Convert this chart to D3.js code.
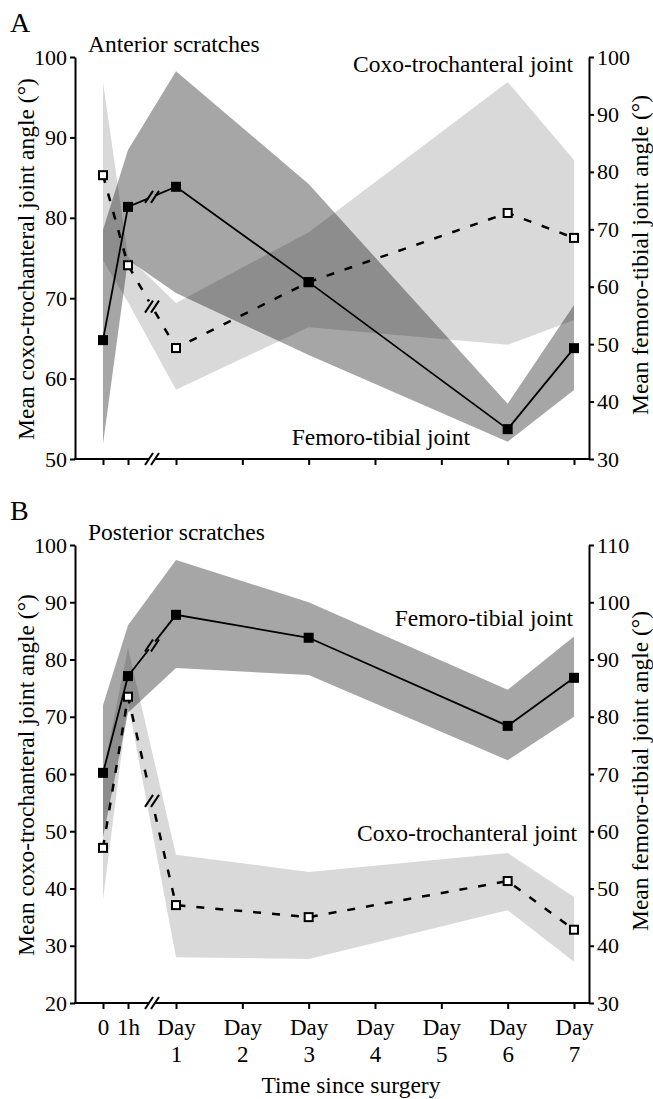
<!DOCTYPE html>
<html>
<head>
<meta charset="utf-8">
<style>
body{margin:0;background:#fff;}
svg text{font-family:"Liberation Serif","Times New Roman",serif;fill:#000;}
.axis path,.axis line{stroke:#000;stroke-width:2;}
.axis text{font-size:22px;}
.lbl{font-size:23.5px;}
</style>
<title>Joint angles after surgery</title>
</head>
<body>
<svg width="653" height="1099"></svg>
<script src="https://d3js.org/d3.v7.min.js"></script>
<script>
// time in days since surgery, 1h = 1/24 day
var tickTimes = [0, 1/24, 1, 2, 3, 4, 5, 6, 7];
var tickLabels = [["0"], ["1h"], ["Day","1"], ["Day","2"], ["Day","3"], ["Day","4"], ["Day","5"], ["Day","6"], ["Day","7"]];
var sampleTimes = [0, 1/24, 1, 3, 6, 7];

// A - anterior scratches
var antCoxoMean  = [85.3, 74.1, 63.8, 72.0, 80.6, 77.5];
var antCoxoHigh  = [96.9, 75.2, 69.4, 78.2, 96.9, 87.2];
var antCoxoLow   = [74.7, 69.5, 58.6, 66.4, 64.2, 67.3];
var antFemMean   = [50.7, 73.9, 77.4, 60.8, 35.2, 49.3];
var antFemHigh   = [69.9, 83.8, 97.5, 77.9, 39.6, 56.8];
var antFemLow    = [32.6, 64.7, 58.9, 48.1, 33.0, 42.0];

// B - posterior scratches
var postCoxoMean = [47.1, 73.5, 37.1, 35.0, 41.3, 32.8];
var postCoxoHigh = [60.2, 82.0, 45.9, 42.9, 46.2, 38.5];
var postCoxoLow  = [38.0, 72.4, 28.0, 27.7, 36.2, 27.2];
var postFemMean  = [70.2, 87.1, 97.8, 93.8, 78.4, 86.8];
var postFemHigh  = [82.0, 96.0, 107.4, 100.0, 84.7, 94.0];
var postFemLow   = [59.0, 80.7, 88.5, 87.3, 72.4, 80.0];

var svg = d3.select("svg");
var left = 75, right = 589;

var x = d3.scaleLinear()
    .domain([0, 1/24, 1, 7])
    .range([103, 128, 176, 574]);
var xBreak = (x(1/24) + x(1)) / 2;

function rows(mean, hi, lo) {
  return sampleTimes.map(function(t, i) { return {t: t, m: mean[i], hi: hi[i], lo: lo[i]}; });
}

function slashes(g, cx, cy) {
  [-3, 3].forEach(function(o) {
    g.append("line")
      .attr("x1", cx + o - 4).attr("y1", cy + 6)
      .attr("x2", cx + o + 4).attr("y2", cy - 6)
      .attr("stroke", "#000").attr("stroke-width", 2);
  });
}

function drawSeries(g, data, y, dashed) {
  var line = d3.line().x(function(d) { return d.x; }).y(function(d) { return d.y; });
  var pts = data.map(function(d) { return {x: x(d.t), y: y(d.m)}; });
  // split the 1h -> Day 1 segment at the break
  var a = pts[1], b = pts[2];
  function at(px) { return {x: px, y: a.y + (b.y - a.y) * (px - a.x) / (b.x - a.x)}; }
  var part1 = pts.slice(0, 2).concat([at(xBreak - 3)]);
  var part2 = [at(xBreak + 3)].concat(pts.slice(2));
  [part1, part2].forEach(function(p) {
    g.append("path")
      .attr("d", line(p))
      .attr("fill", "none")
      .attr("stroke", "#000")
      .attr("stroke-width", dashed ? 2.5 : 1.8)
      .attr("stroke-dasharray", dashed ? "8,11" : null);
  });
  slashes(g, xBreak, at(xBreak).y);

  var s = dashed ? 8 : 10;
  g.selectAll(null)
    .data(pts)
    .enter().append("rect")
      .attr("x", function(d) { return d.x - s / 2; })
      .attr("y", function(d) { return d.y - s / 2; })
      .attr("width", s)
      .attr("height", s)
      .attr("fill", dashed ? "#fff" : "#000")
      .attr("stroke", "#000")
      .attr("stroke-width", dashed ? 2 : 0);
}

function panel(cfg) {
  var g = svg.append("g");
  var yL = d3.scaleLinear().domain(cfg.leftDomain).range([cfg.bottom, cfg.top]);
  var yR = d3.scaleLinear().domain(cfg.rightDomain).range([cfg.bottom, cfg.top]);

  var coxo = rows(cfg.coxo[0], cfg.coxo[1], cfg.coxo[2]);
  var fem = rows(cfg.fem[0], cfg.fem[1], cfg.fem[2]);

  function band(y) {
    return d3.area()
      .x(function(d) { return x(d.t); })
      .y0(function(d) { return y(d.lo); })
      .y1(function(d) { return y(d.hi); });
  }
  g.append("path").datum(coxo).attr("d", band(yL)).attr("fill", "#000").attr("fill-opacity", 0.15);
  g.append("path").datum(fem).attr("d", band(yR)).attr("fill", "#000").attr("fill-opacity", 0.35);

  drawSeries(g, coxo, yL, true);
  drawSeries(g, fem, yR, false);

  // axes
  g.append("g").attr("class", "axis")
      .attr("transform", "translate(" + left + ",0)")
      .call(d3.axisLeft(yL).tickValues(d3.range(cfg.leftDomain[0], cfg.leftDomain[1] + 1, 10))
            .tickSize(5).tickSizeOuter(0).tickPadding(3));
  g.append("g").attr("class", "axis")
      .attr("transform", "translate(" + right + ",0)")
      .call(d3.axisRight(yR).tickValues(d3.range(cfg.rightDomain[0], cfg.rightDomain[1] + 1, 10))
            .tickSize(5).tickSizeOuter(0).tickPadding(3));

  var xa = g.append("g").attr("class", "axis")
      .attr("transform", "translate(0," + cfg.bottom + ")")
      .call(d3.axisBottom(x).tickValues(tickTimes).tickSize(6).tickPadding(10)
            .tickFormat(function() { return ""; }));
  xa.select(".domain").remove();
  xa.append("line").attr("x1", left - 1).attr("x2", right + 1).attr("y1", 0).attr("y2", 0);
  xa.append("rect").attr("x", xBreak - 3).attr("y", -3).attr("width", 6).attr("height", 6).attr("fill", "#fff");
  slashes(xa, xBreak, 0);

  if (cfg.xLabels) {
    xa.selectAll(".tick text").each(function(d, i) {
      var el = d3.select(this).text(null).attr("font-size", null).style("font-size", "23px");
      tickLabels[i].forEach(function(s, j) {
        el.append("tspan").attr("x", 0).attr("dy", j ? "1.17em" : "0.71em").text(s);
      });
    });
  }

  var mid = (cfg.top + cfg.bottom) / 2;
  g.append("text").attr("class", "lbl").attr("text-anchor", "middle")
      .attr("transform", "translate(34," + (mid + 1) + ") rotate(-90)")
      .text("Mean coxo-trochanteral joint angle (°)");
  g.append("text").attr("class", "lbl").attr("text-anchor", "middle")
      .attr("transform", "translate(648," + (mid - 3) + ") rotate(-90)")
      .text("Mean femoro-tibial joint angle (°)");

  g.append("text").style("font-size", "28px").attr("x", 10).attr("y", cfg.top - 25).text(cfg.letter);
  g.append("text").attr("class", "lbl").attr("x", 88).attr("y", cfg.top - 5).text(cfg.title);
  cfg.notes.forEach(function(n) {
    g.append("text").attr("class", "lbl").attr("text-anchor", "end")
      .attr("x", n[1]).attr("y", n[2]).text(n[0]);
  });
}

panel({
  letter: "A", title: "Anterior scratches",
  top: 57, bottom: 459,
  leftDomain: [50, 100], rightDomain: [30, 100],
  coxo: [antCoxoMean, antCoxoHigh, antCoxoLow],
  fem: [antFemMean, antFemHigh, antFemLow],
  xLabels: false,
  notes: [["Coxo-trochanteral joint", 573, 72], ["Femoro-tibial joint", 470, 445]]
});

panel({
  letter: "B", title: "Posterior scratches",
  top: 545, bottom: 1003,
  leftDomain: [20, 100], rightDomain: [30, 110],
  coxo: [postCoxoMean, postCoxoHigh, postCoxoLow],
  fem: [postFemMean, postFemHigh, postFemLow],
  xLabels: true,
  notes: [["Femoro-tibial joint", 573, 626], ["Coxo-trochanteral joint", 577, 841]]
});

svg.append("text").attr("class", "lbl").attr("text-anchor", "middle")
    .attr("x", 351).attr("y", 1093).text("Time since surgery");
</script>
</body>
</html>
